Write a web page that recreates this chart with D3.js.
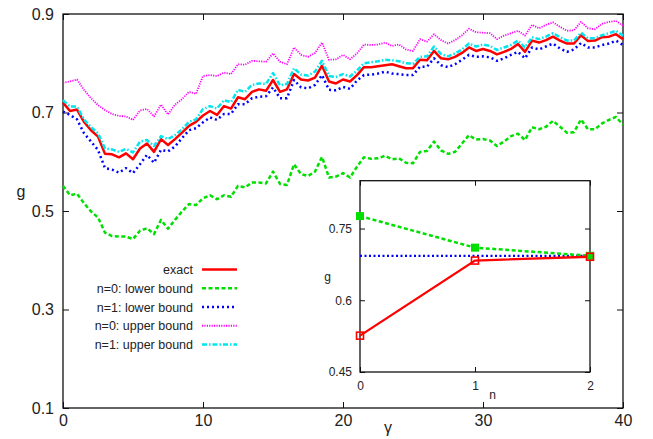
<!DOCTYPE html>
<html>
<head>
<meta charset="utf-8">
<script src="https://cdn.jsdelivr.net/npm/d3@7/dist/d3.min.js"></script>
<style>
  body { margin: 0; background: #fff; }
  text { font-family: "Liberation Sans", Arial, Helvetica, sans-serif; fill: #222; }
</style>
</head>
<body>
<svg id="chart" width="653" height="439"></svg>
<script>
// gamma grid (step 0.5)
var gamma = [0,0.5,1,1.5,2,2.5,3,3.5,4,4.5,5,5.5,6,6.5,7,7.5,8,8.5,9,9.5,
  10,10.5,11,11.5,12,12.5,13,13.5,14,14.5,15,15.5,16,16.5,17,17.5,18,18.5,19,19.5,
  20,20.5,21,21.5,22,22.5,23,23.5,24,24.5,25,25.5,26,26.5,27,27.5,28,28.5,29,29.5,
  30,30.5,31,31.5,32,32.5,33,33.5,34,34.5,35,35.5,36,36.5,37,37.5,38,38.5,39,39.5,40];

var exact = [0.720,0.703,0.706,0.681,0.664,0.651,0.616,0.615,0.609,0.617,
  0.605,0.627,0.637,0.620,0.646,0.634,0.646,0.659,0.673,0.681,
  0.694,0.703,0.695,0.713,0.708,0.731,0.727,0.742,0.747,0.744,
  0.766,0.742,0.747,0.778,0.767,0.765,0.771,0.795,0.763,0.759,
  0.767,0.763,0.776,0.792,0.792,0.794,0.796,0.798,0.794,0.790,
  0.790,0.807,0.806,0.825,0.810,0.808,0.813,0.821,0.832,0.825,
  0.829,0.825,0.818,0.823,0.829,0.839,0.823,0.846,0.842,0.847,
  0.854,0.846,0.840,0.840,0.857,0.845,0.846,0.853,0.854,0.859,0.849];

var lowerN0 = [0.551,0.532,0.535,0.516,0.499,0.487,0.456,0.449,0.448,0.448,
  0.443,0.460,0.465,0.453,0.482,0.464,0.482,0.499,0.514,0.512,
  0.526,0.532,0.524,0.532,0.529,0.551,0.548,0.558,0.558,0.556,
  0.580,0.555,0.553,0.595,0.575,0.571,0.580,0.610,0.568,0.570,
  0.577,0.568,0.590,0.609,0.606,0.607,0.612,0.605,0.607,0.598,
  0.597,0.620,0.622,0.641,0.623,0.616,0.620,0.637,0.654,0.645,
  0.646,0.643,0.632,0.641,0.652,0.657,0.644,0.670,0.666,0.671,
  0.683,0.671,0.659,0.660,0.686,0.666,0.666,0.678,0.685,0.691,0.675];

var lowerN1 = [0.702,0.695,0.686,0.658,0.641,0.624,0.587,0.584,0.578,0.587,
  0.577,0.595,0.614,0.598,0.624,0.621,0.631,0.648,0.664,0.668,
  0.680,0.690,0.685,0.697,0.697,0.717,0.717,0.729,0.732,0.733,
  0.751,0.729,0.729,0.766,0.751,0.749,0.756,0.776,0.746,0.745,
  0.752,0.748,0.765,0.776,0.777,0.779,0.783,0.779,0.778,0.776,
  0.776,0.793,0.793,0.810,0.796,0.792,0.798,0.807,0.817,0.813,
  0.814,0.812,0.805,0.810,0.817,0.823,0.810,0.832,0.828,0.834,
  0.840,0.830,0.823,0.828,0.841,0.832,0.832,0.837,0.840,0.846,0.837];

var upperN0 = [0.760,0.763,0.767,0.746,0.729,0.715,0.705,0.697,0.693,0.692,
  0.685,0.704,0.707,0.692,0.716,0.696,0.716,0.727,0.742,0.738,
  0.774,0.776,0.774,0.781,0.778,0.798,0.797,0.805,0.804,0.803,
  0.820,0.803,0.798,0.832,0.817,0.813,0.821,0.842,0.807,0.808,
  0.817,0.808,0.820,0.838,0.837,0.838,0.842,0.835,0.838,0.828,
  0.825,0.849,0.844,0.859,0.847,0.840,0.847,0.857,0.870,0.863,
  0.862,0.861,0.849,0.856,0.861,0.866,0.856,0.878,0.871,0.878,
  0.883,0.874,0.866,0.867,0.884,0.871,0.869,0.880,0.884,0.886,0.876];

var upperN1 = [0.725,0.712,0.712,0.686,0.670,0.658,0.627,0.625,0.620,0.626,
  0.619,0.641,0.644,0.632,0.652,0.646,0.654,0.666,0.681,0.686,
  0.707,0.713,0.708,0.725,0.721,0.746,0.742,0.756,0.759,0.758,
  0.780,0.755,0.758,0.790,0.777,0.775,0.783,0.805,0.774,0.772,
  0.778,0.773,0.785,0.800,0.802,0.804,0.807,0.806,0.804,0.800,
  0.799,0.813,0.814,0.834,0.819,0.814,0.820,0.828,0.840,0.834,
  0.838,0.835,0.827,0.832,0.837,0.846,0.832,0.853,0.849,0.854,
  0.861,0.853,0.846,0.846,0.862,0.851,0.851,0.857,0.861,0.866,0.856];

var xTicks = [0, 10, 20, 30, 40];
var yTicks = [0.1, 0.3, 0.5, 0.7, 0.9];

// inset (g vs n)
var nVals = [0, 1, 2];
var insetUpper = [0.776, 0.710, 0.693];
var insetLower = [0.526, 0.683, 0.691];
var insetLevel = [0.693, 0.693, 0.693];
var insetXTicks = [0, 1, 2];
var insetYTicks = [0.45, 0.6, 0.75];

var legendNames = ["exact", "n=0: lower bound", "n=1: lower bound", "n=0: upper bound", "n=1: upper bound"];

var series = [
  {name: legendNames[0], values: exact,   color: "#ff0000", width: 2.5, dash: null},
  {name: legendNames[1], values: lowerN0, color: "#00e000", width: 2.5, dash: "4,2.5"},
  {name: legendNames[2], values: lowerN1, color: "#0000ff", width: 2.5, dash: "2,3"},
  {name: legendNames[3], values: upperN0, color: "#ff00ff", width: 1.8, dash: "1.2,1.2"},
  {name: legendNames[4], values: upperN1, color: "#00e5ee", width: 2.5, dash: "5,2,1.5,2"}
];

var svg = d3.select("#chart");

var x = d3.scaleLinear().domain([0, 40]).range([63, 623]);
var y = d3.scaleLinear().domain([0.1, 0.9]).range([408, 14]);

function styleAxis(g, size) {
  g.select(".domain").remove();
  g.selectAll(".tick line").attr("stroke", "#111").attr("stroke-width", 1);
  g.selectAll("text").style("font-size", size + "px").attr("fill", "#222")
    .style("font-family", "'Liberation Sans', Arial, Helvetica, sans-serif");
}

/* ------- main axes ------- */
svg.append("g").attr("transform", "translate(0,408)")
  .call(d3.axisBottom(x).tickValues(xTicks).tickSize(-6).tickPadding(7).tickFormat(d3.format("d")))
  .call(styleAxis, 16);
svg.append("g").attr("transform", "translate(0,14)")
  .call(d3.axisTop(x).tickValues(xTicks).tickSize(-6).tickFormat(""))
  .call(styleAxis, 16);
svg.append("g").attr("transform", "translate(63,0)")
  .call(d3.axisLeft(y).tickValues(yTicks).tickSize(-6).tickPadding(9).tickFormat(d3.format(".1f")))
  .call(styleAxis, 16);
svg.append("g").attr("transform", "translate(623,0)")
  .call(d3.axisRight(y).tickValues(yTicks).tickSize(-6).tickFormat(""))
  .call(styleAxis, 16);

svg.append("rect")
  .attr("x", x(0)).attr("y", y(0.9))
  .attr("width", x(40) - x(0)).attr("height", y(0.1) - y(0.9))
  .attr("fill", "none").attr("stroke", "#111").attr("stroke-width", 1.3);

svg.append("text").attr("x", 21).attr("y", 197).attr("text-anchor", "middle")
  .style("font-size", "16px").text("g");
svg.append("text").attr("x", 388).attr("y", 433).attr("text-anchor", "middle")
  .style("font-size", "16px").text("γ");

/* ------- curves ------- */
var line = d3.line()
  .x(function(d, i) { return x(gamma[i]); })
  .y(function(d) { return y(d); });

svg.append("g").attr("class", "curves")
  .selectAll("path")
  .data(series)
  .enter().append("path")
  .attr("d", function(d) { return line(d.values); })
  .attr("fill", "none")
  .attr("stroke", function(d) { return d.color; })
  .attr("stroke-width", function(d) { return d.width; })
  .attr("stroke-dasharray", function(d) { return d.dash; })
  .attr("stroke-linejoin", "round");

/* ------- legend ------- */
var legend = svg.append("g").attr("class", "legend");
var rows = legend.selectAll("g")
  .data(series)
  .enter().append("g")
  .attr("transform", function(d, i) { return "translate(0," + (269.5 + i * 18.75) + ")"; });
rows.append("text")
  .attr("x", 193).attr("y", 4.5)
  .attr("text-anchor", "end")
  .style("font-size", "12.5px")
  .text(function(d) { return d.name; });
rows.append("line")
  .attr("x1", 202).attr("x2", 237)
  .attr("stroke", function(d) { return d.color; })
  .attr("stroke-width", function(d) { return d.width; })
  .attr("stroke-dasharray", function(d) { return d.dash; });

/* ------- inset ------- */
var ix = d3.scaleLinear().domain([0, 2]).range([360, 590]);
var iy = d3.scaleLinear().domain([0.45, 0.85]).range([372, 180.7]);

var inset = svg.append("g").attr("class", "inset");
inset.append("rect")
  .attr("x", ix(0)).attr("y", iy(0.85))
  .attr("width", ix(2) - ix(0)).attr("height", iy(0.45) - iy(0.85))
  .attr("fill", "#fff");

inset.append("g").attr("transform", "translate(0," + iy(0.45) + ")")
  .call(d3.axisBottom(ix).tickValues(insetXTicks).tickSize(-5).tickPadding(9.5).tickFormat(d3.format("d")))
  .call(styleAxis, 12);
inset.append("g").attr("transform", "translate(0," + iy(0.85) + ")")
  .call(d3.axisTop(ix).tickValues(insetXTicks).tickSize(-5).tickFormat(""))
  .call(styleAxis, 12);
inset.append("g").attr("transform", "translate(" + ix(0) + ",0)")
  .call(d3.axisLeft(iy).tickValues(insetYTicks).tickSize(-5).tickPadding(8).tickFormat(function(d) { return String(d); }))
  .call(styleAxis, 12);
inset.append("g").attr("transform", "translate(" + ix(2) + ",0)")
  .call(d3.axisRight(iy).tickValues(insetYTicks).tickSize(-5).tickFormat(""))
  .call(styleAxis, 12);

inset.append("rect")
  .attr("x", ix(0)).attr("y", iy(0.85))
  .attr("width", ix(2) - ix(0)).attr("height", iy(0.45) - iy(0.85))
  .attr("fill", "none").attr("stroke", "#111").attr("stroke-width", 1.3);

inset.append("text").attr("x", 327.5).attr("y", 281).attr("text-anchor", "middle")
  .style("font-size", "12px").text("g");
inset.append("text").attr("x", 492.5).attr("y", 399).attr("text-anchor", "middle")
  .style("font-size", "12px").text("n");

var iline = d3.line()
  .x(function(d, i) { return ix(nVals[i]); })
  .y(function(d) { return iy(d); });

inset.append("path").attr("d", iline(insetLevel))
  .attr("fill", "none").attr("stroke", "#0000ff").attr("stroke-width", 2.2).attr("stroke-dasharray", "2,2.5");
inset.append("path").attr("d", iline(insetUpper))
  .attr("fill", "none").attr("stroke", "#00e000").attr("stroke-width", 2.5).attr("stroke-dasharray", "4,2.5");
inset.append("path").attr("d", iline(insetLower))
  .attr("fill", "none").attr("stroke", "#ff0000").attr("stroke-width", 2.3);

inset.selectAll("rect.up")
  .data(insetUpper)
  .enter().append("rect").attr("class", "up")
  .attr("x", function(d, i) { return ix(nVals[i]) - 4; })
  .attr("y", function(d) { return iy(d) - 4; })
  .attr("width", 8).attr("height", 8)
  .attr("fill", "#00e000");
inset.selectAll("rect.lo")
  .data(insetLower)
  .enter().append("rect").attr("class", "lo")
  .attr("x", function(d, i) { return ix(nVals[i]) - 3.5; })
  .attr("y", function(d) { return iy(d) - 3.5; })
  .attr("width", 7).attr("height", 7)
  .attr("fill", "none").attr("stroke", "#ff0000").attr("stroke-width", 1.6);
</script>
</body>
</html>
